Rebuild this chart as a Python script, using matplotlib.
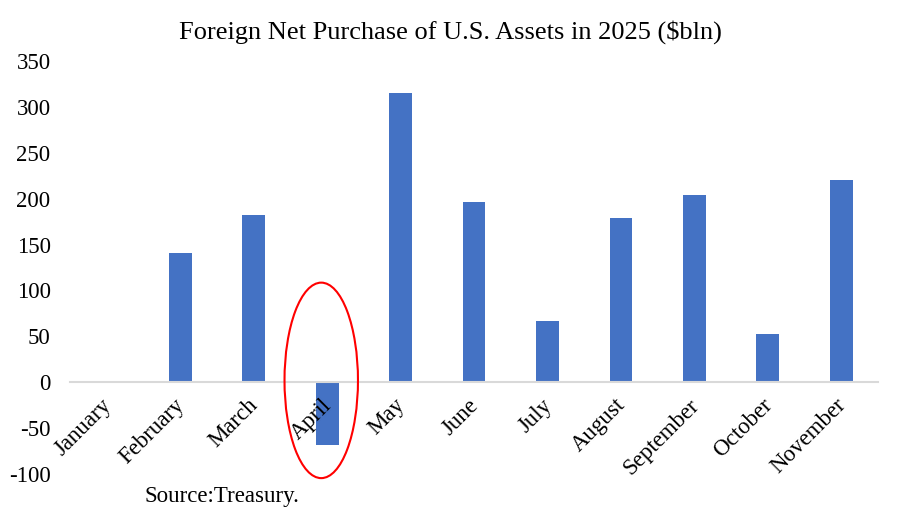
import matplotlib.pyplot as plt
from matplotlib.patches import Ellipse
from matplotlib.transforms import ScaledTranslation

months = ['January', 'February', 'March', 'April', 'May', 'June',
          'July', 'August', 'September', 'October', 'November']
purchases = [0, 141, 182, -68, 315, 196, 67, 179, 204, 52, 220]
yticks = [-100, -50, 0, 50, 100, 150, 200, 250, 300, 350]

plt.rcParams['font.family'] = ['Liberation Serif', 'DejaVu Serif']

fig = plt.figure(figsize=(9, 5.23), dpi=100)
ax = fig.add_axes([0.0778, 0.0937, 0.8978, 0.7897])

x = range(len(months))
ax.bar(x, purchases, width=0.31, color='#4472C4', zorder=1)
ax.set_axisbelow(False)

ax.set_xlim(-0.5, len(months) - 0.5)
ax.set_ylim(-100, 350)
ax.set_yticks(yticks)
ax.set_yticklabels([str(v) for v in yticks], fontsize=16.5)
ax.tick_params(axis='y', length=0, pad=14)

for s in ['top', 'right', 'left']:
    ax.spines[s].set_visible(False)
ax.spines['bottom'].set_position(('data', 0))
ax.spines['bottom'].set_color('#D9D9D9')
ax.spines['bottom'].set_linewidth(1.5)

ax.set_xticks(list(x))
ax.set_xticklabels(months, fontsize=16.5, rotation=45, ha='right',
                   rotation_mode='anchor')
ax.tick_params(axis='x', length=0, pad=9)
shift = ScaledTranslation(-6 / 100, 0, fig.dpi_scale_trans)
for lbl in ax.get_xticklabels():
    lbl.set_transform(lbl.get_transform() + shift)

# red circle around April
ax.add_patch(Ellipse((2.92, 2), 1.0, 213, fill=False, edgecolor='red',
                     linewidth=1.5, zorder=3, clip_on=False))

fig.text(0.5, 0.939, 'Foreign Net Purchase of U.S. Assets in 2025 ($bln)',
         ha='center', va='center', fontsize=19)
fig.text(0.161, 0.05, 'Source:Treasury.', ha='left', va='center', fontsize=16.5)

fig.savefig('out.png', dpi=100)
